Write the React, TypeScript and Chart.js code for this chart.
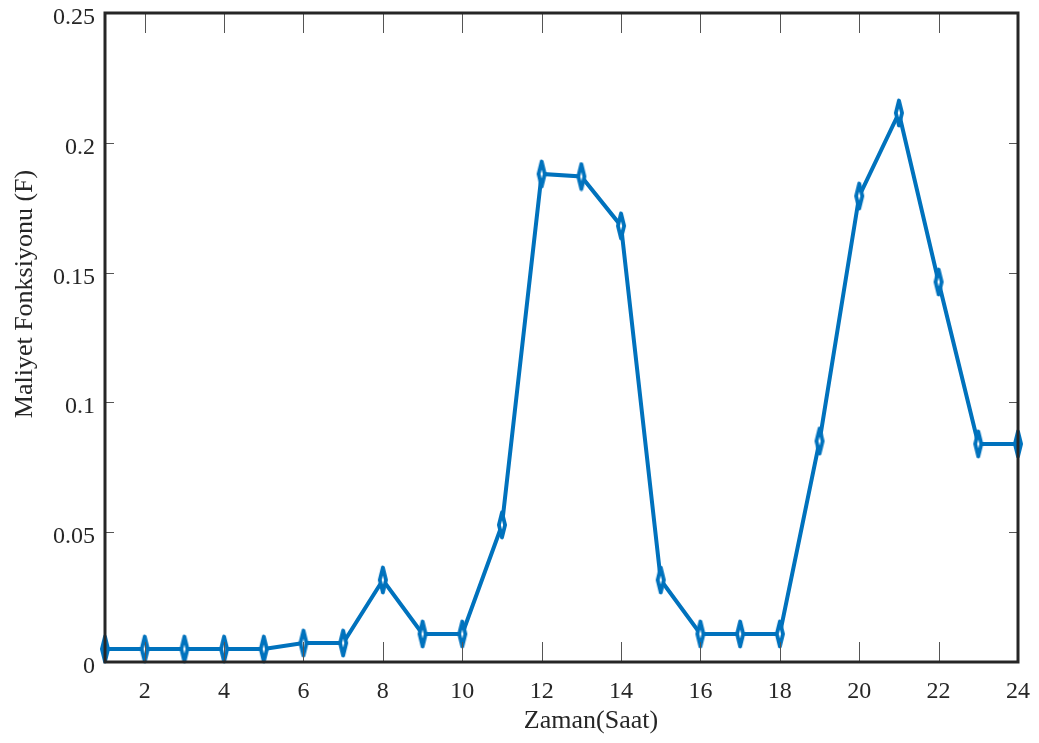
import React, { useEffect, useRef } from "react";
import { Chart, registerables } from "chart.js";

Chart.register(...registerables);

const hours = [1, 2, 3, 4, 5, 6, 7, 8, 9, 10, 11, 12, 13, 14, 15, 16, 17, 18, 19, 20, 21, 22, 23, 24];
const costValues = [0.005, 0.005, 0.005, 0.005, 0.005, 0.0073, 0.0073, 0.0316, 0.0108, 0.0108, 0.0528, 0.188, 0.187, 0.168, 0.0316, 0.0108, 0.0108, 0.0108, 0.0851, 0.1795, 0.2115, 0.1464, 0.084, 0.084];
const xTicks = [2, 4, 6, 8, 10, 12, 14, 16, 18, 20, 22, 24];
const yTicks = [0, 0.05, 0.1, 0.15, 0.2, 0.25];
const yTickLabels = ["0", "0.05", "0.1", "0.15", "0.2", "0.25"];
const xTitle = "Zaman(Saat)";
const yTitle = "Maliyet Fonksiyonu (F)";

const BLUE = "#0072BD";
const TEXT = "#262626";
const FONT = "'Liberation Serif', 'Times New Roman', serif";

function makeMarker(): HTMLCanvasElement {
  const c = document.createElement("canvas");
  const w = 14, h = 30;
  c.width = w;
  c.height = h;
  const ctx = c.getContext("2d")!;
  ctx.beginPath();
  ctx.moveTo(w / 2, 2.5);
  ctx.lineTo(w / 2 + 3.1, h / 2);
  ctx.lineTo(w / 2, h - 2.5);
  ctx.lineTo(w / 2 - 3.1, h / 2);
  ctx.closePath();
  ctx.fillStyle = "#ffffff";
  ctx.fill();
  ctx.lineJoin = "round";
  ctx.lineWidth = 3.8;
  ctx.strokeStyle = BLUE;
  ctx.stroke();
  return c;
}

function drawText(ctx: CanvasRenderingContext2D, text: string, x: number, y: number, size: number, align: CanvasTextAlign, angle = 0) {
  ctx.save();
  ctx.translate(x, y);
  if (angle) ctx.rotate(angle);
  ctx.font = `${size}px ${FONT}`;
  ctx.fillStyle = TEXT;
  ctx.textAlign = align;
  ctx.textBaseline = "alphabetic";
  ctx.fillText(text, 0, 0);
  ctx.restore();
}

const framePlugin = {
  id: "frame",
  afterDraw(chart: any) {
    const { ctx, chartArea } = chart;
    const { left, right, top, bottom } = chartArea;
    const xs = chart.scales.x;
    const ys = chart.scales.y;
    ctx.save();
    ctx.strokeStyle = "#555555";
    ctx.lineWidth = 1;
    const xtl = 20;
    const ytl = 9;
    ctx.beginPath();
    for (const v of xTicks) {
      const px = Math.round(xs.getPixelForValue(v)) + 0.5;
      ctx.moveTo(px, bottom);
      ctx.lineTo(px, bottom - xtl);
      ctx.moveTo(px, top);
      ctx.lineTo(px, top + xtl);
    }
    for (const v of yTicks) {
      const py = Math.round(ys.getPixelForValue(v)) + 0.5;
      ctx.moveTo(left, py);
      ctx.lineTo(left + ytl, py);
      ctx.moveTo(right, py);
      ctx.lineTo(right - ytl, py);
    }
    ctx.stroke();
    ctx.strokeStyle = TEXT;
    ctx.lineWidth = 3;
    ctx.strokeRect(left, top, right - left, bottom - top);
    ctx.restore();

    for (const v of xTicks) {
      drawText(ctx, String(v), xs.getPixelForValue(v), 698, 24, "center");
    }
    yTicks.forEach((v, i) => {
      drawText(ctx, yTickLabels[i], 95, ys.getPixelForValue(v) + 11, 24, "right");
    });
    drawText(ctx, xTitle, 591, 728, 26, "center");
    drawText(ctx, yTitle, 32, 294, 26, "center", -Math.PI / 2);
  },
};

export default function App() {
  const ref = useRef<HTMLCanvasElement>(null);
  useEffect(() => {
    if (!ref.current) return;
    const marker = makeMarker();
    const chart = new Chart(ref.current, {
      type: "line",
      data: {
        datasets: [
          {
            data: hours.map((h, i) => ({ x: h, y: costValues[i] })),
            borderColor: BLUE,
            borderWidth: 4,
            pointStyle: marker as any,
            pointRadius: 8,
            pointHoverRadius: 8,
            tension: 0,
            clip: false as any,
          },
        ],
      },
      options: {
        animation: false,
        responsive: false,
        maintainAspectRatio: false,
        events: [],
        layout: { padding: { left: 0, right: 21, top: 13, bottom: 0 } },
        plugins: { legend: { display: false }, tooltip: { enabled: false } },
        scales: {
          x: {
            type: "linear",
            min: 1,
            max: 24,
            grid: { display: false, drawTicks: false },
            border: { display: false },
            afterBuildTicks: (s: any) => {
              s.ticks = xTicks.map((v) => ({ value: v }));
            },
            afterFit: (s: any) => {
              s.height = 81;
              s.paddingLeft = 0;
              s.paddingRight = 0;
            },
            ticks: { display: false },
            title: { display: false },
          },
          y: {
            type: "linear",
            min: 0,
            max: 0.25,
            grid: { display: false, drawTicks: false },
            border: { display: false },
            afterBuildTicks: (s: any) => {
              s.ticks = yTicks.map((v) => ({ value: v }));
            },
            afterFit: (s: any) => {
              s.width = 105;
              s.paddingTop = 0;
              s.paddingBottom = 0;
            },
            ticks: { display: false },
            title: { display: false },
          },
        },
      },
      plugins: [framePlugin],
    });
    return () => chart.destroy();
  }, []);
  return (
    <div style={{ position: "fixed", left: 0, top: 0, width: 1039, height: 743, background: "#fff" }}>
      <canvas ref={ref} width={1039} height={743} style={{ width: 1039, height: 743 }} />
    </div>
  );
}
